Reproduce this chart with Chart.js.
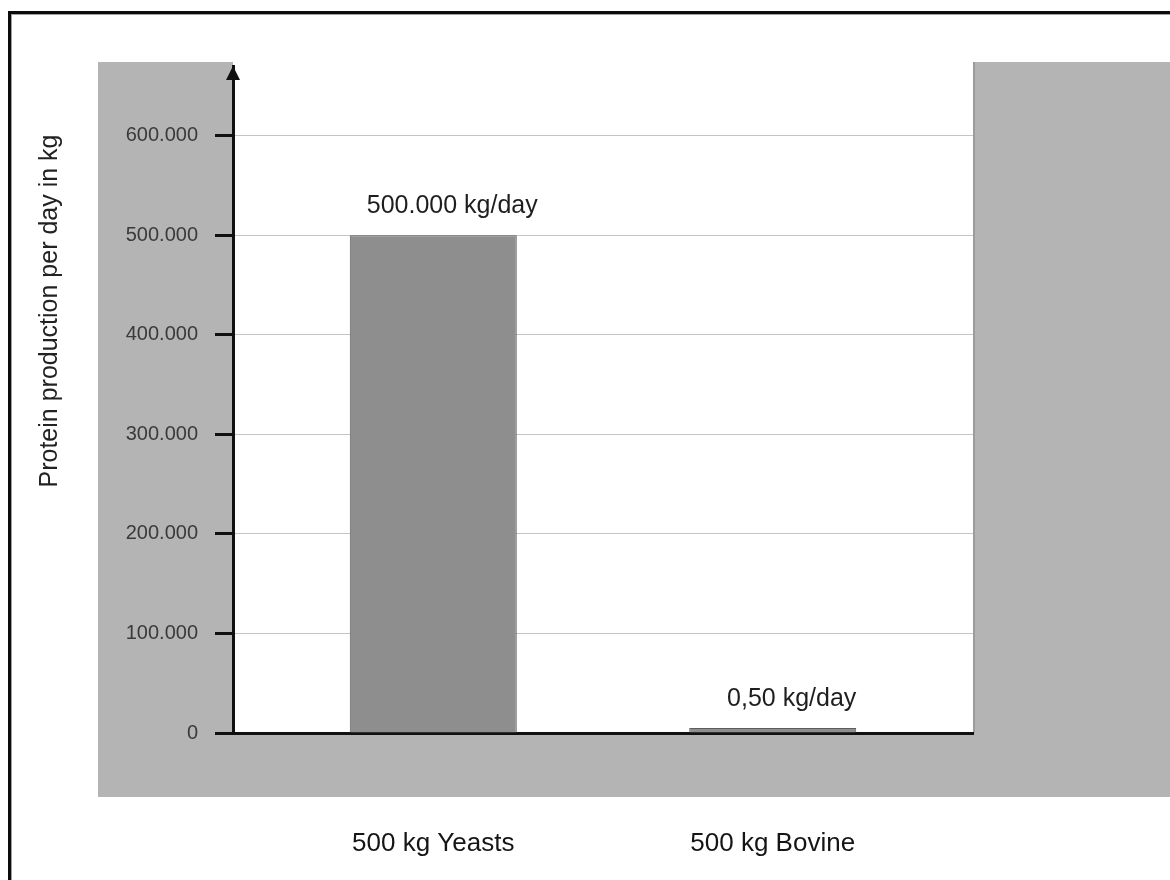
<!DOCTYPE html>
<html>
<head>
<meta charset="utf-8">
<title>Protein production per day</title>
<script src="https://cdn.jsdelivr.net/npm/chart.js@4.4.1/dist/chart.umd.min.js"></script>
<style>
  html, body { margin: 0; padding: 0; background: #fff; }
  canvas { display: block; }
</style>
</head>
<body>
<canvas id="proteinChart" width="1170" height="880"></canvas>
<script>
// data
const categories = ['500 kg Yeasts', '500 kg Bovine'];
const proteinPerDay = [500000, 0.5];
const valueUnit = 'kg/day';
const yAxisTitle = 'Protein production per day in kg';
const yTicks = [0, 100000, 200000, 300000, 400000, 500000, 600000];
const yMax = 670000;

const FONT = '"Liberation Sans", Arial, sans-serif';
const GREY_BG = '#b4b4b4';
const AXIS = '#111';

// german style numbers: 500.000 / 0,50
function formatNumber(v) {
    if (Number.isInteger(v)) return String(v).replace(/\B(?=(\d{3})+(?!\d))/g, '.');
    return v.toFixed(2).replace('.', ',');
}

// grey panel behind the plot, white plotting area on top
const backdrop = {
    id: 'backdrop',
    beforeDraw(chart) {
        const { ctx, chartArea: a } = chart;
        ctx.save();
        ctx.fillStyle = GREY_BG;
        ctx.fillRect(98, 62, chart.width - 98, 797 - 62);
        ctx.fillStyle = '#fff';
        ctx.fillRect(a.left, 0, a.right - a.left, a.bottom);
        // darker seam where the right grey block starts
        ctx.fillStyle = '#9c9c9c';
        ctx.fillRect(a.right, 62, 2, a.bottom - 62);
        ctx.restore();
    }
};

// arrow head, value labels, axis title and frame
const overlay = {
    id: 'overlay',
    afterDraw(chart) {
        const { ctx, chartArea: a } = chart;
        const x0 = a.left;
        ctx.save();

        ctx.fillStyle = AXIS;
        ctx.beginPath();
        ctx.moveTo(x0, a.top);
        ctx.lineTo(x0 - 7, a.top + 14);
        ctx.lineTo(x0 + 7, a.top + 14);
        ctx.closePath();
        ctx.fill();

        const meta = chart.getDatasetMeta(0);
        ctx.font = '25px ' + FONT;
        ctx.fillStyle = '#1e1e1e';
        ctx.textAlign = 'center';
        ctx.textBaseline = 'alphabetic';
        meta.data.forEach((bar, i) => {
            ctx.fillText(formatNumber(proteinPerDay[i]) + ' ' + valueUnit, bar.x + 19, bar.y - 22);
        });

        ctx.translate(50, 311);
        ctx.rotate(-Math.PI / 2);
        ctx.font = '25px ' + FONT;
        ctx.fillStyle = '#222';
        ctx.textBaseline = 'middle';
        ctx.fillText(yAxisTitle, 0, 0);
        ctx.setTransform(1, 0, 0, 1, 0, 0);

        ctx.strokeStyle = '#0c0c0c';
        ctx.lineWidth = 3;
        ctx.strokeRect(9.5, 12.5, chart.width + 20, chart.height + 20);
        ctx.strokeStyle = '#a0a0a0';
        ctx.lineWidth = 1;
        ctx.strokeRect(11.5, 14.5, chart.width + 20, chart.height + 20);
        ctx.restore();
    }
};

new Chart(document.getElementById('proteinChart'), {
    type: 'bar',
    data: {
        datasets: [{
            data: proteinPerDay.map((v, i) => ({ x: i, y: v })),
            backgroundColor: '#8e8e8e',
            borderColor: '#5e5e5e',
            borderWidth: 1,
            minBarLength: 5,
            categoryPercentage: 1,
            barPercentage: 0.492
        }]
    },
    options: {
        responsive: false,
        devicePixelRatio: 1,
        animation: false,
        layout: { padding: { top: 66, right: 197, bottom: 0, left: 0 } },
        plugins: { legend: { display: false }, tooltip: { enabled: false } },
        scales: {
            x: {
                type: 'linear',
                offset: false,
                min: -0.59,
                max: 1.59,
                afterBuildTicks: s => { s.ticks = categories.map((_, i) => ({ value: i })); },
                afterFit: s => { s.height = 147; },
                grid: { display: false, drawTicks: false },
                border: { color: AXIS, width: 3 },
                ticks: {
                    callback: v => categories[v],
                    font: { family: FONT, size: 26 },
                    color: '#151515',
                    padding: 95,
                    maxRotation: 0
                }
            },
            y: {
                min: 0,
                max: yMax,
                afterBuildTicks: s => { s.ticks = yTicks.map(v => ({ value: v })); },
                afterFit: s => { s.width = 233; },
                ticks: {
                    callback: v => formatNumber(v),
                    font: { family: FONT, size: 20 },
                    color: '#3a3a3a',
                    padding: 17
                },
                grid: {
                    color: '#c4c4c4',
                    lineWidth: 1,
                    tickLength: 18,
                    tickColor: AXIS,
                    tickWidth: 3
                },
                border: { color: AXIS, width: 3 }
            }
        }
    },
    plugins: [backdrop, overlay]
});
</script>
</body>
</html>
